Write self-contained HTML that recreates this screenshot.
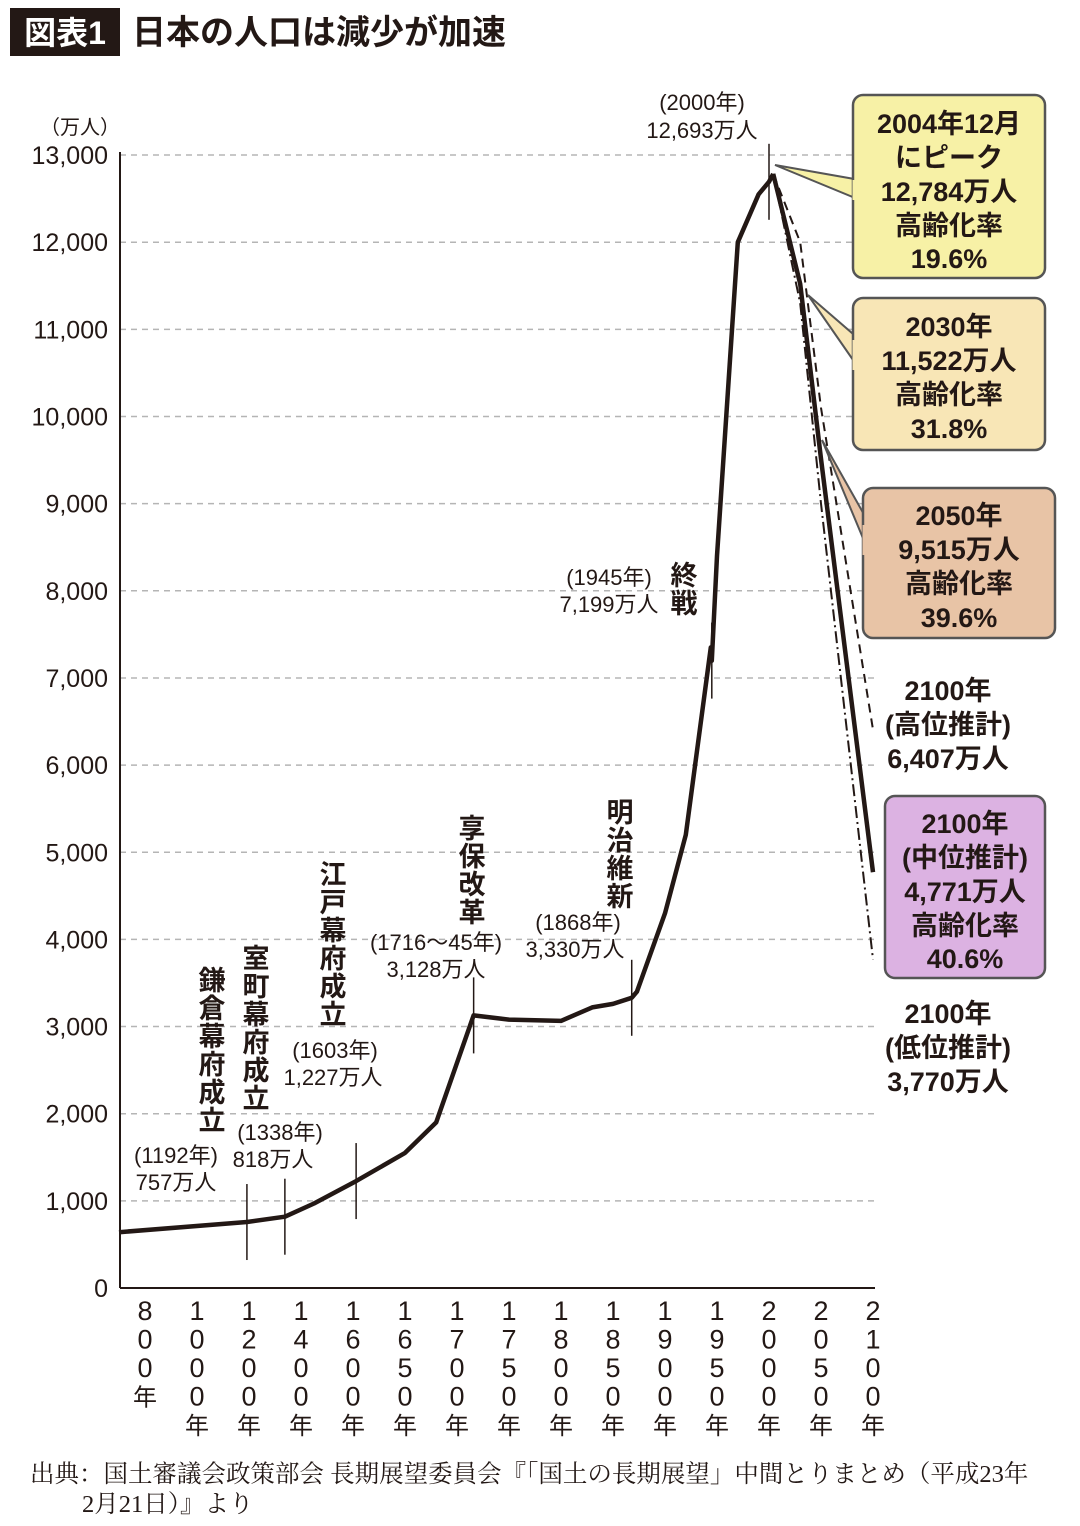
<!DOCTYPE html>
<html><head><meta charset="utf-8">
<style>
body{margin:0;background:#fff;}
svg text{font-family:"Liberation Sans","Noto Sans CJK JP",sans-serif;fill:#231815;}
.serif{font-family:"Liberation Serif","Noto Serif CJK SC",serif;}
</style></head>
<body>
<svg id="chart" width="1080" height="1521" viewBox="0 0 1080 1521" xmlns="http://www.w3.org/2000/svg">
<g>
<rect x="10" y="8" width="110" height="48" fill="#231815"/>
<text x="65" y="44" font-size="32" font-weight="bold" text-anchor="middle" style="fill:#fff">図表1</text>
<text x="132" y="44" font-size="34" font-weight="bold">日本の人口は減少が加速</text>
</g>
<text x="80" y="134" font-size="20" text-anchor="middle">（万人）</text>
<g id="grid"></g>
<g id="yticks"></g>
<g id="xticks"></g>
<g id="annotations"></g>
<g id="series"></g>
<text x="30" y="1482" font-size="24.5" class="serif">出典：国土審議会政策部会 長期展望委員会『「国土の長期展望」中間とりまとめ（平成23年</text>
<text x="82" y="1512" font-size="24.5" class="serif">2月21日）』より</text>
</svg>
<script>
const categoryYears=[800,1000,1200,1400,1600,1650,1700,1750,1800,1850,1900,1950,2000,2050,2100];
const yTicks=[0,1000,2000,3000,4000,5000,6000,7000,8000,9000,10000,11000,12000,13000];
const histYears=[700,1192,1338,1450,1603,1650,1680,1716,1750,1800,1830,1850,1868,1873,1900,1920,1944,1945,1950,1970,1990,2000,2004];
const histValues=[640,757,818,970,1227,1550,1900,3128,3080,3065,3220,3260,3330,3400,4300,5200,7350,7199,8400,12000,12550,12693,12784];
const midYears=[2004,2030,2050,2100];
const midValues=[12784,11522,9515,4771];
const highYears=[2004,2030,2050,2100];
const highValues=[12784,12000,10100,6407];
const lowYears=[2004,2030,2050,2100];
const lowValues=[12784,11300,9000,3770];
const NS="http://www.w3.org/2000/svg";
const X0=145,DX=52,Y0=1288,PY=87.15/1000,XL=120,XR=875;
function xs(yr){
  if(yr<=categoryYears[0]) return X0+(yr-categoryYears[0])/(categoryYears[1]-categoryYears[0])*DX;
  for(let i=0;i<categoryYears.length-1;i++){
    if(yr<=categoryYears[i+1]) return X0+DX*(i+(yr-categoryYears[i])/(categoryYears[i+1]-categoryYears[i]));
  }
  return X0+DX*(categoryYears.length-1);
}
function ys(v){return Y0-v*PY;}
function mk(tag,attrs,parent,txt){const e=document.createElementNS(NS,tag);for(const k in attrs)e.setAttribute(k,attrs[k]);if(txt!==undefined)e.textContent=txt;parent.appendChild(e);return e;}
const grid=document.getElementById('grid'),yt=document.getElementById('yticks'),xt=document.getElementById('xticks');
yTicks.forEach(v=>{
  if(v>0){const l=mk('line',{x1:XL,x2:XR,y1:ys(v),y2:ys(v),stroke:'#b5b5b5','stroke-width':1.5,'stroke-dasharray':'6,5'},grid);
  
  }
  const t=mk('text',{x:108,y:ys(v)+9,'font-size':25,'text-anchor':'end'},yt,v.toLocaleString('en-US'));
  
  
});
const ax=mk('line',{x1:XL,x2:XL,y1:152,y2:Y0,stroke:'#231815','stroke-width':2},grid);


const bx=mk('line',{x1:XL,x2:XR,y1:Y0,y2:Y0,stroke:'#231815','stroke-width':2},grid);


categoryYears.forEach((yr,i)=>{
  const chars=(String(yr)+'年').split('');
  const g=mk('g',{},xt);
  
  
  chars.forEach((c,j)=>{mk('text',{x:X0+DX*i,y:1320+j*28.5,'font-size':c==='年'?24:27,'text-anchor':'middle'},g,c);});
});
function path(years,vals,attrs,name){
  const d=years.map((y,i)=>(i?'L':'M')+xs(y).toFixed(1)+','+ys(vals[i]).toFixed(1)).join(' ');
  const p=mk('path',Object.assign({d:d,fill:'none',stroke:'#231815','stroke-linejoin':'round'},attrs),document.getElementById('series'));
  
  
}
path(highYears,highValues,{'stroke-width':2,'stroke-dasharray':'9,6'},'high-projection-line');
path(lowYears,lowValues,{'stroke-width':2,'stroke-dasharray':'12,4,2,4'},'low-projection-line');
path(histYears,histValues,{'stroke-width':4.5},'historical-line');
path(midYears,midValues,{'stroke-width':4.5},'mid-projection-line');
const ann=document.getElementById('annotations');
[[1192,757],[1338,818],[1603,1227],[1716,3128],[1868,3330],[1945,7199],[2000,12693]].forEach(([yr,v])=>{
  const l=mk('line',{x1:xs(yr),x2:xs(yr),y1:ys(v)-38,y2:ys(v)+38,stroke:'#231815','stroke-width':1.5},ann);
  
  
});
</script>
<svg style="position:absolute;left:0;top:0" width="1080" height="1521">
<style>text{font-family:"Liberation Sans","Noto Sans CJK JP",sans-serif;fill:#231815;}</style>
<g font-size="22" text-anchor="middle">
<text x="176" y="1163">(1192年)</text><text x="176" y="1190">757万人</text>
<text x="280" y="1140">(1338年)</text><text x="273" y="1167">818万人</text>
<text x="335" y="1058">(1603年)</text><text x="333" y="1085">1,227万人</text>
<text x="436" y="950">(1716～45年)</text><text x="436" y="977">3,128万人</text>
<text x="578" y="930">(1868年)</text><text x="575" y="957">3,330万人</text>
<text x="609" y="585">(1945年)</text><text x="609" y="612">7,199万人</text>
<text x="702" y="110">(2000年)</text><text x="702" y="138">12,693万人</text>
</g>
<g font-size="27" font-weight="bold" text-anchor="middle">
<text x="212" y="990">鎌</text><text x="212" y="1018">倉</text><text x="212" y="1046">幕</text><text x="212" y="1074">府</text><text x="212" y="1102">成</text><text x="212" y="1130">立</text>
<text x="256" y="968">室</text><text x="256" y="996">町</text><text x="256" y="1024">幕</text><text x="256" y="1052">府</text><text x="256" y="1080">成</text><text x="256" y="1108">立</text>
<text x="333" y="884">江</text><text x="333" y="912">戸</text><text x="333" y="940">幕</text><text x="333" y="968">府</text><text x="333" y="996">成</text><text x="333" y="1024">立</text>
<text x="472" y="838">享</text><text x="472" y="866">保</text><text x="472" y="894">改</text><text x="472" y="922">革</text>
<text x="620" y="822">明</text><text x="620" y="850">治</text><text x="620" y="878">維</text><text x="620" y="906">新</text>
<text x="684" y="585">終</text><text x="684" y="613">戦</text>
</g>
<g font-size="27" font-weight="bold" text-anchor="middle">
<path d="M775,165 L860,180 L860,200 Z" fill="#f7f1a6" stroke="#555" stroke-width="2"/>
<rect x="853" y="95" width="192" height="183" rx="10" fill="#f7f1a6" stroke="#555" stroke-width="2.5"/>
<path d="M855,180 L855,200" stroke="#f7f1a6" stroke-width="5"/>
<text x="949" y="133">2004年12月</text><text x="949" y="167">にピーク</text><text x="949" y="201">12,784万人</text><text x="949" y="235">高齢化率</text><text x="949" y="268">19.6%</text>
<path d="M808,295 L860,340 L860,370 Z" fill="#f8e6b6" stroke="#555" stroke-width="2"/>
<rect x="853" y="298" width="192" height="152" rx="10" fill="#f8e6b6" stroke="#555" stroke-width="2.5"/>
<path d="M855,340 L855,370" stroke="#f8e6b6" stroke-width="5"/>
<text x="949" y="336">2030年</text><text x="949" y="370">11,522万人</text><text x="949" y="404">高齢化率</text><text x="949" y="438">31.8%</text>
<path d="M822,440 L870,525 L870,555 Z" fill="#e8c4a6" stroke="#555" stroke-width="2"/>
<rect x="863" y="488" width="192" height="150" rx="10" fill="#e8c4a6" stroke="#555" stroke-width="2.5"/>
<path d="M865,525 L865,555" stroke="#e8c4a6" stroke-width="5"/>
<text x="959" y="525">2050年</text><text x="959" y="559">9,515万人</text><text x="959" y="593">高齢化率</text><text x="959" y="627">39.6%</text>
<text x="948" y="700">2100年</text><text x="948" y="734">(高位推計)</text><text x="948" y="768">6,407万人</text>
<rect x="885" y="796" width="160" height="182" rx="10" fill="#dcb2e2" stroke="#555" stroke-width="2.5"/>
<text x="965" y="833">2100年</text><text x="965" y="867">(中位推計)</text><text x="965" y="901">4,771万人</text><text x="965" y="935">高齢化率</text><text x="965" y="968">40.6%</text>
<text x="948" y="1023">2100年</text><text x="948" y="1057">(低位推計)</text><text x="948" y="1091">3,770万人</text>
</g>
</svg>
</body></html>
